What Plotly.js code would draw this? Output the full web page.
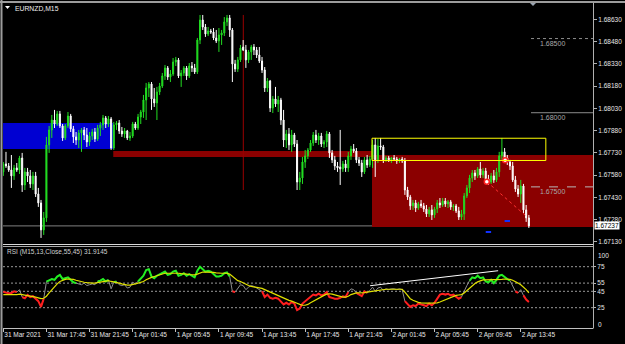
<!DOCTYPE html>
<html><head><meta charset="utf-8">
<script src="https://cdn.plot.ly/plotly-3.0.1.min.js"></script>
<style>html,body{margin:0;padding:0;background:#000;overflow:hidden}#chart{width:625px;height:344px}</style>
</head><body><div id="chart"></div>
<script>
const symbolLabel = "EURNZD,M15";
const rsiLabel = "RSI (M15,13,Close,55,45) 31.9145";
const timeLabels = ["31 Mar 2021","31 Mar 17:45","31 Mar 21:45","1 Apr 01:45","1 Apr 05:45","1 Apr 09:45","1 Apr 13:45","1 Apr 17:45","1 Apr 21:45","2 Apr 01:45","2 Apr 05:45","2 Apr 09:45","2 Apr 13:45"];
const barsPerLabel = 16;
const priceTicks = [1.68630,1.68480,1.68330,1.68180,1.68030,1.67880,1.67730,1.67580,1.67430,1.67280,1.67130];
const rsiLevels = [75,55,45,25];

const openP = [
1.67601,1.67655,1.67641,1.67614,1.67574,1.67628,1.67614,1.67695,1.67513,1.67601,
1.67574,1.67520,1.67574,1.67452,1.67392,1.67210,1.67291,1.67783,1.67884,1.67951,
1.67924,1.67992,1.67911,1.67830,1.67911,1.67978,1.67891,1.67837,1.67816,1.67864,
1.67884,1.67850,1.67803,1.67843,1.67870,1.67823,1.67897,1.67918,1.67965,1.67924,
1.67958,1.67762,1.67918,1.67931,1.67877,1.67857,1.67877,1.67830,1.67843,1.67924,
1.67897,1.67971,1.68005,1.68086,1.68167,1.68194,1.68093,1.68066,1.68140,1.68180,
1.68248,1.68302,1.68241,1.68261,1.68342,1.68356,1.68248,1.68268,1.68302,1.68248,
1.68315,1.68302,1.68275,1.68490,1.68625,1.68578,1.68531,1.68551,1.68544,1.68504,
1.68484,1.68524,1.68538,1.68612,1.68639,1.68558,1.68329,1.68295,1.68356,1.68443,
1.68423,1.68356,1.68410,1.68443,1.68423,1.68389,1.68349,1.68288,1.68167,1.68214,
1.68032,1.68093,1.68059,1.68086,1.67951,1.67816,1.67857,1.67783,1.67850,1.67789,
1.67533,1.67560,1.67668,1.67709,1.67749,1.67796,1.67850,1.67816,1.67843,1.67789,
1.67803,1.67857,1.67729,1.67682,1.67641,1.67634,1.67621,1.67655,1.67628,1.67709,
1.67756,1.67742,1.67682,1.67661,1.67601,1.67682,1.67648,1.67688,1.67783,1.67682,
1.67776,1.67769,1.67682,1.67695,1.67682,1.67695,1.67688,1.67675,1.67688,1.67675,
1.67479,1.67432,1.67372,1.67392,1.67358,1.67385,1.67372,1.67351,1.67318,1.67345,
1.67311,1.67351,1.67392,1.67378,1.67405,1.67385,1.67399,1.67365,1.67372,1.67338,
1.67297,1.67318,1.67439,1.67493,1.67560,1.67594,1.67574,1.67621,1.67581,1.67607,
1.67554,1.67533,1.67574,1.67547,1.67601,1.67709,1.67736,1.67695,1.67668,1.67641,
1.67547,1.67486,1.67452,1.67506,1.67345,1.67291];
const highP = [
1.67668,1.67736,1.67661,1.67715,1.67648,1.67661,1.67709,1.67729,1.67628,1.67628,
1.67614,1.67601,1.67601,1.67493,1.67412,1.67331,1.67837,1.67911,1.67985,1.68019,
1.68012,1.68012,1.67924,1.67924,1.68005,1.67992,1.67911,1.67870,1.67884,1.67897,
1.67904,1.67897,1.67870,1.67891,1.67897,1.67918,1.67938,1.67985,1.67978,1.67978,
1.67971,1.67938,1.67944,1.67951,1.67904,1.67897,1.67884,1.67870,1.67938,1.67938,
1.67992,1.68019,1.68120,1.68201,1.68207,1.68207,1.68167,1.68174,1.68201,1.68268,
1.68322,1.68315,1.68288,1.68369,1.68376,1.68369,1.68288,1.68315,1.68315,1.68335,
1.68342,1.68329,1.68504,1.68659,1.68659,1.68598,1.68578,1.68565,1.68571,1.68558,
1.68571,1.68558,1.68645,1.68659,1.68659,1.68571,1.68356,1.68376,1.68457,1.68490,
1.68457,1.68423,1.68457,1.68463,1.68443,1.68443,1.68376,1.68308,1.68234,1.68221,
1.68113,1.68174,1.68113,1.68100,1.68019,1.67884,1.67897,1.67884,1.67864,1.67816,
1.67601,1.67702,1.67749,1.67762,1.67816,1.67870,1.67884,1.67864,1.67864,1.67816,
1.67877,1.67870,1.67749,1.67709,1.67668,1.67884,1.67675,1.67682,1.67736,1.67776,
1.67789,1.67762,1.67702,1.67682,1.67702,1.67715,1.67709,1.67816,1.67830,1.67823,
1.67830,1.67783,1.67709,1.67709,1.67702,1.67715,1.67702,1.67695,1.67702,1.67695,
1.67500,1.67446,1.67412,1.67412,1.67399,1.67412,1.67392,1.67378,1.67365,1.67378,
1.67365,1.67412,1.67425,1.67425,1.67425,1.67412,1.67412,1.67385,1.67385,1.67365,
1.67345,1.67459,1.67513,1.67581,1.67614,1.67614,1.67634,1.67668,1.67628,1.67628,
1.67581,1.67594,1.67614,1.67628,1.67736,1.67830,1.67762,1.67715,1.67682,1.67668,
1.67574,1.67513,1.67547,1.67520,1.67378,1.67311];
const lowP = [
1.67574,1.67628,1.67601,1.67493,1.67547,1.67601,1.67587,1.67466,1.67479,1.67533,
1.67493,1.67479,1.67432,1.67365,1.67156,1.67176,1.67264,1.67729,1.67830,1.67897,
1.67911,1.67897,1.67810,1.67816,1.67897,1.67870,1.67796,1.67783,1.67762,1.67736,
1.67816,1.67769,1.67776,1.67816,1.67803,1.67810,1.67843,1.67884,1.67897,1.67904,
1.67749,1.67749,1.67884,1.67857,1.67837,1.67830,1.67816,1.67810,1.67830,1.67884,
1.67884,1.67924,1.67965,1.67951,1.68106,1.68019,1.68039,1.67951,1.68120,1.68167,
1.68221,1.68221,1.68207,1.68248,1.68315,1.68234,1.68174,1.68248,1.68221,1.68234,
1.68275,1.68261,1.68261,1.68463,1.68558,1.68511,1.68517,1.68531,1.68490,1.68470,
1.68410,1.68457,1.68517,1.68585,1.68511,1.68207,1.68275,1.68275,1.68342,1.68416,
1.68302,1.68335,1.68356,1.68389,1.68369,1.68335,1.68268,1.68140,1.68140,1.68005,
1.67998,1.68039,1.68005,1.67918,1.67769,1.67762,1.67749,1.67736,1.67769,1.67479,
1.67479,1.67520,1.67628,1.67688,1.67736,1.67776,1.67796,1.67783,1.67769,1.67762,
1.67769,1.67695,1.67661,1.67614,1.67601,1.67513,1.67601,1.67601,1.67601,1.67682,
1.67729,1.67661,1.67641,1.67567,1.67587,1.67628,1.67634,1.67628,1.67567,1.67661,
1.67749,1.67661,1.67668,1.67668,1.67661,1.67675,1.67655,1.67661,1.67661,1.67446,
1.67412,1.67345,1.67345,1.67331,1.67345,1.67358,1.67331,1.67297,1.67297,1.67277,
1.67291,1.67324,1.67358,1.67365,1.67365,1.67358,1.67345,1.67338,1.67324,1.67277,
1.67277,1.67277,1.67425,1.67459,1.67533,1.67547,1.67560,1.67560,1.67560,1.67533,
1.67513,1.67520,1.67527,1.67533,1.67567,1.67682,1.67668,1.67648,1.67614,1.67533,
1.67466,1.67432,1.67392,1.67324,1.67264,1.67223];
const closeP = [
1.67655,1.67641,1.67614,1.67574,1.67628,1.67614,1.67695,1.67513,1.67601,1.67574,
1.67520,1.67574,1.67452,1.67392,1.67210,1.67291,1.67783,1.67884,1.67951,1.67924,
1.67992,1.67911,1.67830,1.67911,1.67978,1.67891,1.67837,1.67816,1.67864,1.67884,
1.67850,1.67803,1.67843,1.67870,1.67823,1.67897,1.67918,1.67965,1.67924,1.67958,
1.67762,1.67918,1.67931,1.67877,1.67857,1.67877,1.67830,1.67843,1.67924,1.67897,
1.67971,1.68005,1.68086,1.68167,1.68194,1.68093,1.68066,1.68140,1.68180,1.68248,
1.68302,1.68241,1.68261,1.68342,1.68356,1.68248,1.68268,1.68302,1.68248,1.68315,
1.68302,1.68275,1.68490,1.68625,1.68578,1.68531,1.68551,1.68544,1.68504,1.68484,
1.68524,1.68538,1.68612,1.68639,1.68558,1.68329,1.68295,1.68356,1.68436,1.68423,
1.68356,1.68410,1.68443,1.68423,1.68389,1.68349,1.68288,1.68167,1.68214,1.68032,
1.68093,1.68059,1.68086,1.67951,1.67816,1.67857,1.67783,1.67850,1.67789,1.67533,
1.67560,1.67668,1.67709,1.67749,1.67796,1.67850,1.67816,1.67843,1.67789,1.67803,
1.67857,1.67729,1.67682,1.67641,1.67628,1.67621,1.67655,1.67628,1.67709,1.67756,
1.67742,1.67682,1.67661,1.67601,1.67682,1.67648,1.67688,1.67783,1.67682,1.67776,
1.67769,1.67682,1.67695,1.67682,1.67695,1.67688,1.67675,1.67688,1.67675,1.67479,
1.67432,1.67372,1.67392,1.67358,1.67385,1.67372,1.67351,1.67318,1.67345,1.67311,
1.67351,1.67392,1.67378,1.67405,1.67385,1.67399,1.67365,1.67372,1.67338,1.67297,
1.67318,1.67439,1.67493,1.67560,1.67594,1.67574,1.67621,1.67581,1.67607,1.67554,
1.67533,1.67574,1.67547,1.67601,1.67709,1.67736,1.67695,1.67668,1.67641,1.67547,
1.67486,1.67452,1.67506,1.67345,1.67291,1.67237];

const rsi = [
44.5,43,42.5,43,45,44,47,38,36.5,40.5,
38,39,36,33,26,36,56.7,58,60,59,
63,65,60,61,62,59,56,55,54,53,
55,52,53,54,53,57,58,60,57,59,
48,56,57,53,52,53,49,50,56,54,
57,60,64,71,72,63,61,64,66,68,
69,65,66,69,70,64,65,67,64,66,
64,62,70,75,72,69,70,69,66,63,
63,64,67,68,63,45,44,48,53,52,
47,50,52,51,49,48,45,38,41,37,
36,37,36,33,29,31,29,32,30,22,
24,30,33,35,38,41,40,42,40,41,
44,38,37,36,36,37,39,38,44,48,
47,43,41,39,45,43,46,50,45,49,
50,46,48,47,48,48,47,48,47,33,
29,26,28,27,30,29,28,27,30,28,
31,36,41,42,41,42,40,41,39,36,
38,46,52,58,62,61,64,61,62,57,
56,59,55,59,64,65,62,60,58,51,
45,43,47,40,35,31.9145];
const rsiMA = [
41,41,40.5,40.5,41,41,41.5,41,40,39.5,39,38.5,38,37,36,36.5,
39,43,47,51,54,57,58.5,59.5,60,60,59.5,58.5,57.5,56.5,56,
55.5,55,55,55,55.5,56,57,57.5,58,57,56.5,56,55,54,53,52.5,52.5,
53,54,55,56,57,59,61,62,63,64,65,66,67,67,67,67.5,67.5,67,66.5,66.5,66,65.5,65.5,65,
66,67.5,68.5,68.5,68.5,68.5,68,67.5,67,67,67,67,66,
63,60,58,57,55,53,52,51,50.5,50,49.5,48.5,47,45.5,44,42.5,
41,40,38.5,37,35.5,34,33,32,30.5,29,28,28,29,31,33,35,37,38.5,40,41.5,
42,41.5,40.5,39.5,38.5,38,38,39,41,42,43,43,43,43.5,44,44.5,45.5,46,46.5,47,
47,47.5,47.5,47.5,47.5,47.5,47.5,47.5,44,40,36,34,32.5,31.5,31,30.5,30.5,30.5,30.5,30.5,
31,32,33.5,35,36.5,38,39,40,40.5,41,43,46,49,52,54.5,56.5,58,59,59,59,
59,59,59,59,59.5,60,60,59.5,58.5,57,55,53,50.5,47,43];

// drawn objects (bar index / price anchors)
const blueZone = {bar0:-2, bar1:40.8, p0:1.67756, p1:1.67931};
const redBand = {bar0:40.8, bar1:136.8, p0:1.67702, p1:1.67742};
const redZone = {bar0:136.8, bar1:240, p0:1.67230, p1:1.67715};
const yellowBox = {bar0:136.8, bar1:201.3, p0:1.67678, p1:1.67828};
const vLine = {bar:89.05, p0:1.67479, p1:1.68659};
const levels = [1.68500, 1.68000, 1.67500];
const levelStyles = ['dot','solid','dash'];
const levelStart = 195.8;
const bidPrice = 1.67237;
const rsiTrend = {bars:[136.1, 183.6], values:[51.8, 70.1]};
const divergence = {bars:[179.4, 194.4], prices:[1.67535, 1.67297]};
const divMarks = {bars:[179.4, 186.2], prices:[1.67535, 1.67680]};
const blueDashes = [{b0:179, b1:181, p:1.67196}, {b0:186, b1:188, p:1.67270}];

const W = 625, H = 344;
const px = v => v / W, py = v => 1 - v / H;
const idx = closeP.map((_, i) => i);
const FONT = 'Liberation Sans, Arial, sans-serif';

const traces = [
  {type:'candlestick', x:idx, open:openP, high:highP, low:lowP, close:closeP, xaxis:'x', yaxis:'y',
   increasing:{line:{color:'#22dd22', width:1}, fillcolor:'#22dd22'},
   decreasing:{line:{color:'#ffffff', width:1}, fillcolor:'#ffffff'},
   whiskerwidth:0, hoverinfo:'skip'},
  {type:'scatter', mode:'lines', x:idx, y:rsi, xaxis:'x', yaxis:'y2', line:{color:'#8c8c8c', width:1}, hoverinfo:'skip'},
  {type:'scatter', mode:'lines', x:idx, y:rsi.map(v => v >= 55 ? v : null), xaxis:'x', yaxis:'y2', line:{color:'#22ee22', width:2}, connectgaps:false, hoverinfo:'skip'},
  {type:'scatter', mode:'lines', x:idx, y:rsi.map(v => v <= 45 ? v : null), xaxis:'x', yaxis:'y2', line:{color:'#ff1e1e', width:2}, connectgaps:false, hoverinfo:'skip'},
  {type:'scatter', mode:'lines', x:idx, y:rsiMA, xaxis:'x', yaxis:'y2', line:{color:'#e0e000', width:1.2}, hoverinfo:'skip'},
  {type:'scatter', mode:'lines', x:rsiTrend.bars, y:rsiTrend.values, xaxis:'x', yaxis:'y2', line:{color:'#ffffff', width:1}, hoverinfo:'skip'},
  {type:'scatter', mode:'lines', x:divergence.bars, y:divergence.prices, xaxis:'x', yaxis:'y', line:{color:'#ff3030', width:1, dash:'dot'}, hoverinfo:'skip'},
  {type:'scatter', mode:'markers', x:divMarks.bars, y:divMarks.prices, xaxis:'x', yaxis:'y', marker:{size:5, color:'#ffffff', line:{color:'#ff2020', width:1.5}}, hoverinfo:'skip'}
];

const shapes = [
  {type:'rect', xref:'x', yref:'y', x0:blueZone.bar0, x1:blueZone.bar1, y0:blueZone.p0, y1:blueZone.p1, fillcolor:'#0000d2', line:{width:0}, layer:'below'},
  {type:'rect', xref:'x', yref:'y', x0:redBand.bar0, x1:redBand.bar1, y0:redBand.p0, y1:redBand.p1, fillcolor:'#8b0000', line:{width:0}, layer:'below'},
  {type:'rect', xref:'x', yref:'y', x0:redZone.bar0, x1:redZone.bar1, y0:redZone.p0, y1:redZone.p1, fillcolor:'#8b0000', line:{width:0}, layer:'below'},
  {type:'line', xref:'x', yref:'y', x0:vLine.bar, x1:vLine.bar, y0:vLine.p0, y1:vLine.p1, line:{color:'#9a0000', width:1}, layer:'below'},
  {type:'rect', xref:'x', yref:'y', x0:yellowBox.bar0, x1:yellowBox.bar1, y0:yellowBox.p0, y1:yellowBox.p1, fillcolor:'rgba(0,0,0,0)', line:{color:'#ffff00', width:1}},
  {type:'line', xref:'paper', yref:'y', x0:px(3), x1:px(593), y0:bidPrice, y1:bidPrice, line:{color:'#808080', width:1}, layer:'below'},
  // frame and pane separators
  {type:'line', xref:'paper', yref:'paper', x0:0, x1:1, y0:py(2), y1:py(2), line:{color:'#9c9c9c', width:2}},
  {type:'line', xref:'paper', yref:'paper', x0:px(1.5), x1:px(1.5), y0:0, y1:1, line:{color:'#9c9c9c', width:2}},
  {type:'line', xref:'paper', yref:'paper', x0:px(3), x1:px(593), y0:py(244.5), y1:py(244.5), line:{color:'#d8d8d8', width:1}},
  {type:'line', xref:'paper', yref:'paper', x0:px(3), x1:px(593), y0:py(246.5), y1:py(246.5), line:{color:'#a8a8a8', width:1}},
  {type:'line', xref:'paper', yref:'paper', x0:px(593.5), x1:px(593.5), y0:py(3), y1:py(328.5), line:{color:'#b0b0b0', width:1}},
  {type:'path', xref:'paper', yref:'paper', path:`M${px(5)},${py(6)} L${px(10)},${py(6)} L${px(7.5)},${py(9)} Z`, fillcolor:'#ffffff', line:{width:0}},
  {type:'path', xref:'paper', yref:'paper', path:`M${px(530)},${py(3)} L${px(536)},${py(3)} L${px(533)},${py(6)} Z`, fillcolor:'#9aa4b0', line:{width:0}}
];
levels.forEach((lv, k) => shapes.push({type:'line', xref:'x', yref:'y', x0:levelStart, x1:240, y0:lv, y1:lv,
  line:{color: k === 2 ? '#b8b8b8' : '#8c8c8c', width:1, dash:levelStyles[k]}}));
rsiLevels.forEach(lv => shapes.push({type:'line', xref:'paper', yref:'y2', x0:px(3), x1:px(593), y0:lv, y1:lv,
  line:{color:'#9a9a9a', width:1, dash:'2px,2px'}, layer:'below'}));
blueDashes.forEach(d => shapes.push({type:'line', xref:'x', yref:'y', x0:d.b0, x1:d.b1, y0:d.p, y1:d.p, line:{color:'#1030ff', width:2}}));

const annotations = [
  {xref:'paper', yref:'paper', x:px(13), y:py(8), xanchor:'left', yanchor:'middle', text:symbolLabel, showarrow:false, font:{family:FONT, size:6.8, color:'#eeeeee'}},
  {xref:'paper', yref:'paper', x:px(5), y:py(252), xanchor:'left', yanchor:'middle', text:rsiLabel, showarrow:false, font:{family:FONT, size:6.5, color:'#d0d0d0'}},
  {xref:'paper', yref:'paper', x:px(596), y:py(255), xanchor:'left', yanchor:'middle', text:'100', showarrow:false, font:{family:FONT, size:6.5, color:'#e6e6e6'}},
  {xref:'paper', yref:'paper', x:px(596), y:py(324), xanchor:'left', yanchor:'middle', text:'0', showarrow:false, font:{family:FONT, size:6.5, color:'#e6e6e6'}},
  {xref:'paper', yref:'y', x:px(594), y:bidPrice, xanchor:'left', yanchor:'middle', text:bidPrice.toFixed(5), showarrow:false, bgcolor:'#ffffff', borderpad:0, font:{family:FONT, size:6.5, color:'#000000'}}
];
levels.forEach(lv => annotations.push({xref:'x', yref:'y', x:levelStart + 2.5, y:lv, yshift:-5, xanchor:'left', yanchor:'middle', text:lv.toFixed(5), showarrow:false, font:{family:FONT, size:7, color:'#a8a8a8'}}));

const layout = {
  width:W, height:H, margin:{l:0, r:0, t:0, b:0}, paper_bgcolor:'#000', plot_bgcolor:'#000',
  showlegend:false, hovermode:false, dragmode:false, boxgap:0.45,
  xaxis:{domain:[px(3), px(593)], range:[-0.11, 218.8], anchor:'y2', showgrid:false, zeroline:false,
    showline:true, linecolor:'#c0c0c0', linewidth:1, ticks:'outside', ticklen:3, tickcolor:'#c0c0c0',
    tickmode:'array', tickvals:timeLabels.map((_, k) => k * barsPerLabel), ticktext:timeLabels,
    tickangle:0, automargin:false, ticklabelposition:'outside right', ticklabelstandoff:0,
    tickfont:{family:FONT, size:6.5, color:'#e6e6e6'},
    rangeslider:{visible:false}, fixedrange:true},
  yaxis:{domain:[py(244), py(4)], range:[1.67115, 1.68733], anchor:'x', side:'right', showgrid:false, zeroline:false,
    showline:false, ticks:'outside', ticklen:3, tickcolor:'#b0b0b0', tickmode:'array', tickvals:priceTicks,
    ticktext:priceTicks.map(v => v.toFixed(5)), tickfont:{family:FONT, size:6.5, color:'#e6e6e6'}, fixedrange:true},
  yaxis2:{domain:[py(328.2), py(246.2)], range:[0, 100], anchor:'x', side:'right', showgrid:false, zeroline:false,
    showline:false, ticks:'outside', ticklen:2, tickcolor:'#b0b0b0', tickmode:'array', tickvals:rsiLevels,
    ticktext:rsiLevels.map(String), tickfont:{family:FONT, size:6.5, color:'#e6e6e6'}, fixedrange:true},
  shapes:shapes, annotations:annotations
};
Plotly.newPlot('chart', traces, layout, {staticPlot:true, displayModeBar:false});
</script></body></html>
